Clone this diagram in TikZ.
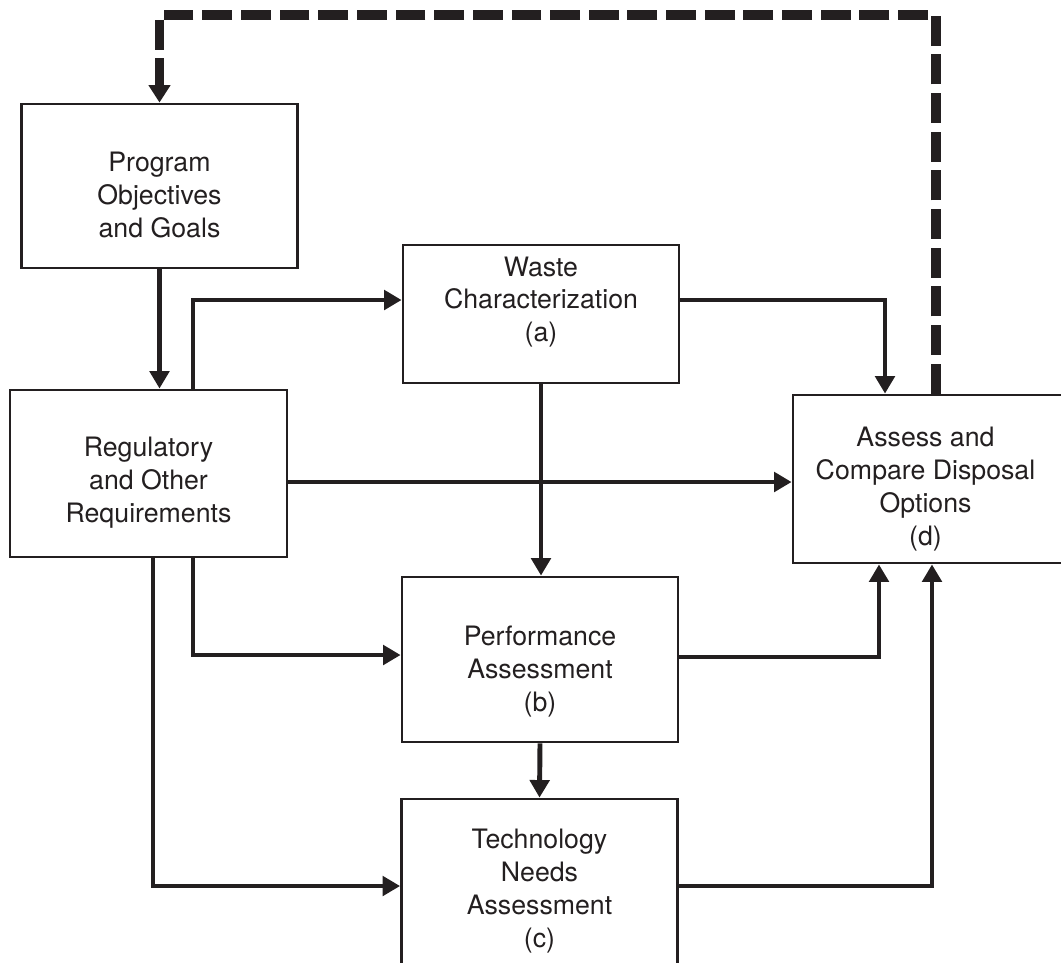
\documentclass[tikz,border=0pt]{standalone}
\usepackage{fontspec}
\setmainfont{TeX Gyre Heros}
\usetikzlibrary{arrows.meta}
\definecolor{ink}{HTML}{231F20}

\begin{document}
\begin{tikzpicture}[
  stage/.style={draw=ink, line width=1.6pt, inner sep=0pt, minimum width=5.52cm},
  caption/.style={align=center, inner sep=0pt, text=ink,
    font=\fontsize{15.2}{18.7}\selectfont},
  flow/.style={draw=ink, line width=2.8pt, -{Triangle[length=10pt,width=11pt]}},
  feedback/.style={draw=ink, line width=5.6pt, dash pattern=on 17pt off 5pt,
    -{Triangle[length=10pt,width=12pt]}}
]
  \useasboundingbox (0,0) rectangle (21.22,-19.24);
  \clip (0,0) rectangle (21.22,-19.24);

  % Boxes
  \node[stage, minimum height=3.28cm,
    label={[caption, yshift=-0.18cm]center:{Program\\Objectives\\and Goals}}] (prog) at (3.19,-3.72) {};
  \node[stage, minimum height=2.76cm,
    label={[caption, yshift=0.24cm]center:{Waste\\Characterization\\(a)}}] (waste) at (10.82,-6.28) {};
  \node[stage, minimum height=3.34cm, minimum width=5.54cm,
    label={[caption, yshift=-0.18cm]center:{Regulatory\\and Other\\Requirements}}] (reg) at (2.97,-9.47) {};
  \node[stage, minimum height=3.36cm, minimum width=5.46cm,
    label={[caption, yshift=-0.2cm, xshift=-0.08cm]center:{Assess and\\Compare Disposal\\Options\\(d)}}] (assess) at (18.59,-9.58) {};
  \node[stage, minimum height=3.30cm,
    label={[caption, yshift=-0.24cm]center:{Performance\\Assessment\\(b)}}] (perf) at (10.80,-13.19) {};
  \node[stage, minimum height=3.48cm,
    label={[caption, yshift=-0.1cm]center:{Technology\\Needs\\Assessment\\(c)}}] (tech) at (10.79,-17.72) {};

  % Feedback loop back to the objectives
  \coordinate (loop) at (18.72,-0.30);
  \draw[feedback] (assess.north -| loop) -- (loop) -| (prog.north);

  % Requirements feed everything
  \draw[flow] (prog.south) -- (prog.south |- reg.north);
  \draw[flow] ([xshift=0.89cm]reg.north) |- ([yshift=0.28cm]waste.west);
  \draw[flow] ([yshift=-0.17cm]reg.east) -- ([yshift=-0.06cm]assess.west);
  \draw[flow] ([xshift=0.89cm]reg.south) |- ([yshift=0.09cm]perf.west);
  \draw[flow] ([xshift=0.09cm]reg.south) |- (tech.west);

  % Middle column
  \draw[flow] (waste.south) -- (waste.south |- perf.north);
  \draw[flow] (perf.south) -- (tech.north);

  % Into the comparison
  \draw[flow] ([yshift=0.28cm]waste.east) -| ([xshift=-0.89cm]assess.north);
  \draw[flow] ([yshift=0.05cm]perf.east) -| ([xshift=-1.01cm]assess.south);
  \draw[flow] (tech.east) -| ([xshift=0.05cm]assess.south);
\end{tikzpicture}
\end{document}
